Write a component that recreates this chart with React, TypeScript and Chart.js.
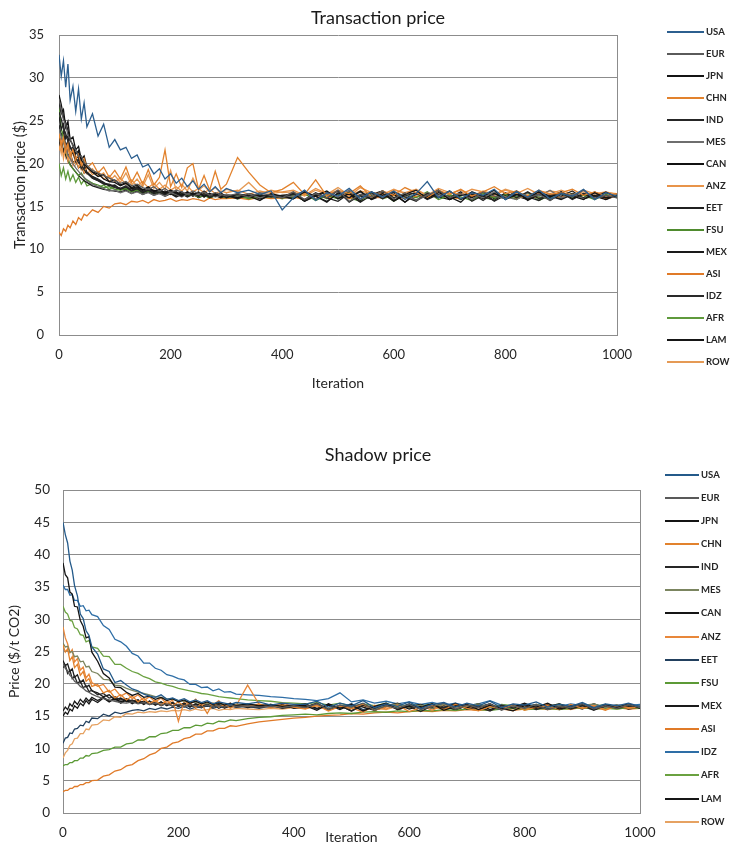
import React, { useEffect, useRef } from 'react';
import { Chart, registerables } from 'chart.js';

Chart.register(...registerables);

// ---------------- DATA ----------------
const ITERATIONS = [
  0, 4, 8, 12, 16, 20, 25, 30, 35, 40, 45, 50, 60, 70, 80, 90, 100,
  110, 120, 130, 140, 150, 160, 170, 180, 190, 200, 210, 220, 230, 240, 250, 260, 270, 280, 290, 300,
  320, 340, 360, 380, 400,
  420, 440, 460, 480, 500, 520, 540, 560, 580, 600, 620, 640, 660, 680, 700, 720, 740, 760, 780, 800,
  820, 840, 860, 880, 900, 920, 940, 960, 980, 1000,
];

const REGIONS = ['USA', 'EUR', 'JPN', 'CHN', 'IND', 'MES', 'CAN', 'ANZ', 'EET', 'FSU', 'MEX', 'ASI', 'IDZ', 'AFR', 'LAM', 'ROW'];

const X_TICK_STEP = 200;
const X_MAX = 1000;
const Y_TICK_STEP = 5;
const TP_Y_MAX = 35;
const SP_Y_MAX = 50;

const TP_TITLE = 'Transaction price';
const TP_Y_TITLE = 'Transaction price ($)';
const SP_TITLE = 'Shadow price';
const SP_Y_TITLE = 'Price ($/t CO2)';
const X_TITLE = 'Iteration';

// Transaction price ($)
const TP_USA = [32.7, 30.2, 32.0, 28.9, 31.6, 27.4, 29.0, 26.1, 28.7, 25.2, 27.1, 24.3, 25.8, 23.2, 24.6, 21.9, 22.8,
  21.6, 21.9, 20.6, 21.0, 19.6, 19.9, 18.8, 19.4, 18.2, 18.8, 17.7, 18.3, 17.3, 18.0, 17.0, 17.6, 16.7, 17.3, 16.6, 17.1,
  16.6, 16.9, 16.4, 16.8, 14.6,
  16.0, 16.9, 15.7, 16.6, 16.2, 17.1, 15.9, 16.7, 16.1, 16.8, 15.8, 16.5, 17.9, 16.0, 16.8, 15.9, 16.6, 16.3, 17.0, 15.8,
  16.7, 16.1, 16.9, 15.9, 16.5, 16.2, 17.0, 15.8, 16.6, 16.2];
const TP_EUR = [27.5, 26.2, 25.1, 24.6, 23.3, 22.9, 22.0, 21.6, 20.8, 20.9, 20.1, 19.8, 19.2, 18.9, 18.6, 18.3, 18.0,
  17.7, 17.9, 17.4, 17.6, 17.2, 17.0, 17.3, 16.8, 17.1, 16.6, 16.9, 16.7, 16.4, 16.8, 16.5, 16.7, 16.3, 16.6, 16.4, 16.2,
  16.5, 16.1, 16.6, 16.3, 16.0,
  16.7, 15.8, 16.5, 16.0, 16.9, 15.6, 16.4, 16.1, 16.8, 15.9, 16.6, 15.7, 16.3, 16.9, 16.0, 16.5, 15.8, 16.7, 16.2, 15.9,
  16.8, 16.0, 16.4, 15.7, 16.6, 16.1, 16.9, 15.9, 16.3, 16.0];
const TP_JPN = [28.0, 26.9, 25.4, 24.8, 23.9, 22.7, 22.2, 21.1, 21.5, 20.4, 20.0, 19.6, 19.0, 18.5, 18.7, 17.9, 17.8,
  17.4, 17.7, 17.1, 17.3, 16.9, 17.2, 16.7, 17.0, 16.5, 16.9, 16.6, 16.3, 16.7, 16.4, 16.6, 16.2, 16.5, 16.3, 16.6, 16.1,
  16.4, 16.2, 15.7, 16.5, 16.2,
  15.9, 16.7, 16.2, 15.5, 16.6, 16.0, 16.8, 15.8, 16.5, 15.6, 16.4, 16.9, 15.9, 16.6, 16.1, 15.5, 16.7, 16.2, 16.9, 15.8,
  16.4, 16.0, 16.7, 15.7, 16.5, 16.2, 15.8, 16.6, 16.0, 16.3];
const TP_CHN = [23.5, 22.1, 23.0, 21.4, 22.3, 20.9, 21.6, 20.5, 21.2, 19.8, 20.6, 19.5, 20.1, 18.9, 19.6, 18.4, 19.2,
  18.2, 19.6, 17.8, 19.0, 17.6, 19.3, 17.5, 18.4, 21.6, 17.3, 18.8, 17.2, 19.5, 20.0, 17.0, 18.6, 16.9, 19.1, 17.0, 17.6,
  20.7, 19.0, 17.5, 16.6, 17.0,
  17.8, 16.4, 18.1, 16.2, 16.9, 16.5, 17.4, 16.1, 16.8, 16.3, 17.2, 16.6, 16.0, 16.9, 16.4, 17.0, 16.2, 16.7, 17.3, 16.5,
  16.8, 16.1, 16.9, 16.4, 16.6, 17.0, 16.3, 16.7, 16.2, 16.5];
const TP_IND = [26.0, 25.2, 24.1, 23.5, 22.6, 22.0, 21.2, 20.7, 20.1, 19.8, 19.3, 18.9, 18.4, 18.1, 17.7, 17.6, 17.3,
  17.1, 17.4, 16.9, 17.2, 16.7, 17.0, 16.6, 16.9, 16.4, 16.8, 16.5, 16.2, 16.6, 16.3, 16.7, 16.1, 16.5, 16.2, 16.4, 16.0,
  16.5, 16.2, 16.4, 16.1, 16.3,
  16.5, 15.7, 16.4, 16.0, 16.8, 15.5, 16.3, 16.6, 15.9, 16.7, 16.1, 15.6, 16.5, 16.0, 16.8, 15.8, 16.4, 16.2, 15.7, 16.6,
  16.0, 16.7, 15.9, 16.3, 16.6, 15.8, 16.5, 16.1, 16.7, 16.0];
const TP_MES = [24.0, 23.1, 22.4, 21.8, 21.0, 20.6, 20.0, 19.5, 19.1, 18.7, 18.4, 18.0, 17.6, 17.3, 17.1, 16.8, 16.9,
  16.6, 16.8, 16.5, 16.7, 16.4, 16.6, 16.3, 16.5, 16.2, 16.6, 16.4, 16.1, 16.5, 16.3, 16.4, 16.2, 16.5, 16.1, 16.3, 16.4,
  16.2, 16.5, 16.0, 16.3, 16.1,
  16.2, 16.8, 15.9, 16.5, 16.1, 16.9, 15.8, 16.4, 16.0, 16.7, 16.2, 15.7, 16.6, 16.3, 16.8, 15.9, 16.5, 16.0, 16.7, 16.1,
  15.8, 16.6, 16.2, 16.9, 16.0, 16.4, 15.9, 16.6, 16.2, 16.4];
const TP_CAN = [27.2, 25.8, 26.3, 24.2, 24.9, 22.8, 23.1, 21.6, 22.0, 20.5, 20.9, 19.6, 19.0, 18.8, 18.2, 17.9, 18.1,
  17.5, 17.8, 17.2, 17.5, 16.9, 17.3, 16.8, 17.0, 16.6, 16.9, 16.4, 16.7, 16.3, 16.6, 16.2, 16.8, 16.3, 16.5, 16.1, 16.4,
  16.0, 16.5, 16.2, 16.4, 16.1,
  16.6, 15.6, 16.3, 16.8, 15.9, 16.5, 15.7, 16.7, 16.0, 16.4, 15.5, 16.6, 16.1, 16.9, 15.8, 16.3, 16.6, 15.9, 16.5, 16.0,
  16.8, 15.7, 16.4, 16.1, 16.7, 15.9, 16.5, 16.2, 15.8, 16.4];
const TP_ANZ = [21.5, 22.8, 20.6, 22.1, 20.3, 21.4, 19.8, 20.7, 19.5, 20.2, 18.9, 19.6, 18.7, 19.1, 18.2, 18.6, 17.9,
  18.3, 17.6, 18.1, 17.4, 17.9, 17.2, 17.7, 17.0, 17.5, 16.9, 17.3, 16.8, 17.4, 16.7, 17.1, 16.6, 17.0, 16.5, 16.8, 16.6,
  16.9, 16.4, 16.8, 16.5, 16.7,
  16.9, 16.3, 17.1, 16.5, 16.8, 16.2, 17.2, 16.6, 16.4, 17.0, 16.5, 16.9, 16.3, 17.1, 16.6, 16.4, 17.0, 16.7, 16.3, 16.9,
  16.5, 17.1, 16.4, 16.8, 16.6, 16.3, 16.9, 16.5, 16.7, 16.4];
const TP_EET = [25.5, 24.0, 24.6, 22.9, 23.2, 21.7, 21.9, 20.6, 20.8, 19.7, 19.9, 19.0, 18.5, 18.2, 17.8, 17.4, 17.5,
  17.0, 17.3, 16.8, 17.1, 16.6, 16.9, 16.5, 16.7, 16.3, 16.6, 16.2, 16.5, 16.1, 16.4, 16.2, 16.5, 16.0, 16.3, 16.1, 16.3,
  15.9, 16.4, 16.1, 16.2, 16.0,
  16.4, 15.8, 16.6, 16.0, 15.6, 16.5, 16.2, 15.9, 16.7, 15.7, 16.3, 16.6, 15.8, 16.4, 16.0, 16.7, 15.6, 16.3, 16.5, 15.9,
  16.6, 16.1, 15.7, 16.4, 16.2, 16.8, 15.9, 16.3, 16.0, 16.5];
const TP_FSU = [26.5, 24.2, 22.8, 21.3, 20.6, 19.8, 19.4, 19.0, 18.6, 18.9, 18.3, 18.1, 17.7, 17.5, 17.2, 17.3, 17.0,
  16.9, 17.1, 16.7, 16.9, 16.6, 16.8, 16.5, 16.7, 16.4, 16.6, 16.3, 16.5, 16.2, 16.4, 16.1, 16.3, 16.0, 16.3, 16.2, 16.0,
  16.3, 15.9, 16.2, 16.1, 16.2,
  16.0, 16.5, 15.7, 16.3, 15.9, 16.6, 15.8, 16.2, 16.5, 15.6, 16.4, 16.0, 16.7, 15.8, 16.3, 16.1, 15.7, 16.5, 16.0, 16.4,
  15.8, 16.6, 16.1, 15.9, 16.5, 16.0, 16.3, 15.8, 16.4, 16.1];
const TP_MEX = [23.0, 22.2, 21.5, 21.0, 20.3, 19.9, 19.4, 19.0, 18.6, 18.3, 18.0, 17.8, 17.4, 17.2, 17.0, 16.9, 16.8,
  16.7, 16.9, 16.5, 16.8, 16.4, 16.7, 16.3, 16.6, 16.2, 16.5, 16.1, 16.4, 16.2, 16.5, 16.0, 16.3, 16.1, 16.4, 16.0, 16.3,
  16.1, 16.4, 15.9, 16.2, 16.1,
  16.5, 15.6, 16.2, 16.7, 15.9, 16.4, 15.5, 16.3, 16.8, 16.0, 16.4, 15.7, 16.6, 16.1, 15.8, 16.5, 16.0, 16.7, 15.6, 16.3,
  16.5, 15.9, 16.6, 16.2, 15.8, 16.4, 16.0, 16.7, 16.1, 16.3];
const TP_ASI = [12.0, 11.6, 12.4, 12.1, 12.8, 12.5, 13.3, 12.9, 13.7, 13.4, 14.1, 13.9, 14.6, 14.3, 15.0, 14.8, 15.3,
  15.4, 15.2, 15.6, 15.5, 15.7, 15.4, 15.8, 15.6, 15.7, 15.9, 15.6, 15.8, 15.7, 15.9, 15.8, 15.6, 16.0, 15.8, 15.9, 15.9,
  16.0, 15.8, 16.1, 15.9, 16.0,
  16.1, 15.8, 16.3, 16.0, 16.2, 15.9, 16.4, 16.1, 16.0, 16.3, 15.9, 16.2, 16.0, 16.4, 16.1, 15.9, 16.3, 16.0, 16.2, 16.1,
  15.9, 16.3, 16.0, 16.2, 16.1, 16.4, 16.0, 16.2, 15.9, 16.2];
const TP_IDZ = [24.5, 23.3, 23.8, 22.1, 22.6, 21.0, 21.3, 20.2, 20.5, 19.4, 19.6, 18.9, 18.3, 18.0, 17.6, 17.5, 17.2,
  17.0, 17.2, 16.8, 17.0, 16.6, 16.9, 16.5, 16.7, 16.4, 16.6, 16.3, 16.5, 16.2, 16.4, 16.1, 16.5, 16.2, 16.3, 16.0, 16.2,
  16.0, 16.3, 16.1, 16.4, 16.1,
  15.9, 16.6, 16.2, 15.6, 16.5, 16.0, 16.7, 15.8, 16.3, 16.6, 15.5, 16.4, 16.1, 16.8, 15.9, 16.3, 16.5, 15.7, 16.6, 16.0,
  16.4, 15.8, 16.7, 16.2, 15.9, 16.5, 16.0, 16.6, 15.8, 16.3];
const TP_AFR = [20.0, 18.6, 19.5, 18.2, 19.1, 18.0, 18.7, 17.8, 18.4, 17.6, 18.1, 17.4, 17.7, 17.2, 17.5, 17.0, 17.3,
  16.9, 17.1, 16.7, 16.9, 16.6, 16.8, 16.5, 16.7, 16.4, 16.6, 16.3, 16.5, 16.2, 16.4, 16.1, 16.3, 16.0, 16.2, 16.1, 16.2,
  15.9, 16.1, 16.0, 16.2, 15.9,
  16.3, 15.7, 16.5, 15.9, 16.4, 16.0, 15.6, 16.6, 15.9, 16.3, 16.1, 15.7, 16.5, 16.0, 16.4, 15.8, 16.6, 16.0, 15.8, 16.4,
  16.1, 16.6, 15.7, 16.3, 16.0, 16.5, 15.9, 16.2, 16.0, 16.3];
const TP_LAM = [22.0, 23.0, 21.4, 22.2, 20.8, 21.3, 20.1, 20.4, 19.5, 19.7, 18.9, 19.0, 18.3, 18.0, 17.7, 17.5, 17.3,
  17.1, 16.9, 17.2, 16.8, 17.0, 16.7, 16.9, 16.5, 16.8, 16.4, 16.7, 16.3, 16.6, 16.2, 16.5, 16.1, 16.4, 16.2, 16.3, 16.1,
  16.4, 16.0, 16.3, 16.2, 16.3,
  16.2, 16.8, 15.8, 16.5, 16.0, 16.7, 15.9, 16.4, 16.8, 15.7, 16.3, 16.6, 16.0, 16.9, 15.8, 16.4, 16.1, 16.7, 15.9, 16.5,
  16.2, 15.8, 16.6, 16.0, 16.7, 16.1, 16.4, 15.9, 16.6, 16.2];
const TP_ROW = [22.5, 21.2, 23.4, 20.8, 22.0, 20.3, 21.5, 19.9, 20.6, 19.3, 20.1, 18.8, 19.4, 18.5, 18.9, 17.9, 18.6,
  17.8, 18.9, 17.5, 18.2, 17.3, 18.7, 17.1, 17.8, 17.0, 19.2, 16.9, 17.6, 16.8, 18.3, 16.9, 17.4, 16.7, 17.2, 16.6, 17.0,
  16.7, 17.8, 16.5, 16.9, 16.6,
  16.7, 16.2, 16.9, 16.4, 17.2, 16.3, 16.8, 16.5, 16.1, 16.9, 16.6, 17.0, 16.3, 16.7, 16.5, 16.9, 16.2, 16.8, 16.4, 17.0,
  16.6, 16.3, 16.8, 16.5, 16.9, 16.4, 16.7, 16.3, 16.6, 16.5];

// Shadow price ($/t CO2)
const SP_USA = [45.0, 43.1, 41.8, 39.0, 37.6, 35.2, 33.6, 30.8, 30.1, 28.2, 27.5, 25.7, 24.6, 22.3, 21.9, 20.2, 20.5,
  19.8, 19.2, 18.9, 18.4, 18.1, 17.9, 18.3, 17.6, 17.8, 17.4, 17.7, 17.2, 17.5, 17.1, 17.4, 16.9, 17.2, 17.0, 16.8, 17.1,
  16.9, 17.2, 16.7, 17.0, 16.8,
  16.8, 17.3, 16.4, 17.0, 16.6, 17.4, 16.3, 16.9, 16.5, 17.2, 16.2, 16.8, 17.1, 16.4, 17.0, 16.6, 17.3, 16.3, 16.9, 16.7,
  17.2, 16.4, 16.8, 16.5, 17.1, 16.3, 16.9, 16.6, 17.0, 16.5];
const SP_EUR = [23.2, 22.4, 22.0, 21.3, 21.0, 20.4, 20.1, 19.6, 19.3, 18.9, 18.7, 18.4, 18.0, 17.7, 17.5, 17.3, 17.1,
  17.0, 17.2, 16.9, 17.1, 16.8, 17.0, 16.7, 16.9, 16.6, 16.8, 16.5, 16.8, 16.6, 16.4, 16.7, 16.5, 16.6, 16.4, 16.7, 16.5,
  16.6, 16.4, 16.5, 16.3, 16.6,
  16.3, 16.9, 16.0, 16.7, 16.4, 17.0, 15.9, 16.6, 16.2, 16.8, 16.0, 16.5, 17.0, 16.1, 16.7, 16.3, 16.9, 15.9, 16.6, 16.2,
  16.8, 16.0, 16.5, 16.3, 16.9, 16.1, 16.6, 16.2, 16.8, 16.3];
const SP_JPN = [38.7, 36.9, 36.4, 34.2, 33.9, 32.0, 31.9, 29.8, 28.9, 27.1, 27.3, 24.9, 23.5, 21.6, 20.9, 19.5, 19.4,
  18.7, 18.2, 18.5, 17.9, 18.1, 17.6, 17.9, 17.4, 17.7, 17.2, 17.5, 17.0, 17.3, 16.9, 17.2, 16.8, 17.1, 16.7, 17.0, 16.6,
  16.9, 16.6, 16.8, 16.5, 16.7,
  16.6, 15.9, 16.9, 16.2, 16.7, 15.8, 16.5, 17.0, 16.1, 16.6, 16.3, 16.9, 15.9, 16.5, 16.8, 16.0, 16.7, 16.2, 15.8, 16.6,
  16.4, 17.0, 16.1, 16.5, 16.8, 16.0, 16.6, 16.3, 16.9, 16.2];
const SP_CHN = [26.0, 24.9, 25.4, 23.6, 24.2, 22.5, 23.0, 21.3, 21.9, 20.4, 20.8, 19.6, 19.9, 18.6, 19.0, 17.8, 18.3,
  17.5, 18.1, 17.2, 17.8, 16.9, 17.5, 16.7, 17.4, 16.6, 17.2, 16.5, 17.1, 16.3, 16.9, 15.4, 17.0, 16.4, 16.8, 16.2, 16.7,
  16.5, 16.9, 16.3, 16.7, 16.4,
  16.1, 16.7, 15.8, 16.5, 16.2, 16.9, 15.9, 16.4, 16.7, 15.7, 16.3, 16.6, 16.0, 16.8, 16.2, 15.8, 16.5, 16.1, 16.7, 15.9,
  16.4, 16.6, 16.0, 16.8, 16.2, 16.5, 15.9, 16.6, 16.3, 16.4];
const SP_IND = [22.5, 22.9, 21.6, 22.1, 20.8, 21.2, 20.1, 20.4, 19.4, 19.7, 18.8, 19.0, 18.3, 18.5, 17.8, 18.0, 17.5,
  17.7, 17.3, 17.5, 17.0, 17.3, 16.8, 17.1, 16.7, 17.0, 16.5, 16.9, 16.4, 16.8, 16.3, 16.7, 16.5, 16.8, 16.3, 16.6, 16.4,
  16.6, 16.3, 16.7, 16.2, 16.5,
  16.4, 17.0, 16.0, 16.6, 15.8, 16.7, 16.2, 16.9, 16.0, 16.5, 15.7, 16.6, 16.3, 16.9, 16.1, 16.4, 15.8, 16.7, 16.2, 16.8,
  16.0, 16.5, 16.9, 16.1, 16.6, 15.9, 16.7, 16.2, 16.5, 16.3];
const SP_MES = [26.3, 25.7, 25.8, 24.9, 25.0, 24.2, 24.3, 23.4, 23.5, 22.6, 22.7, 21.9, 21.6, 20.7, 20.6, 19.8, 19.7,
  19.3, 19.0, 18.7, 18.5, 18.3, 18.0, 17.9, 17.7, 17.6, 17.4, 17.3, 17.2, 17.1, 17.0, 16.9, 17.0, 16.8, 16.9, 16.7, 16.8,
  16.7, 16.6, 16.7, 16.5, 16.6,
  16.5, 16.9, 16.2, 16.7, 16.4, 16.8, 16.1, 16.6, 16.9, 16.3, 16.7, 16.2, 16.8, 16.4, 16.6, 16.9, 16.3, 16.7, 16.5, 16.2,
  16.8, 16.4, 16.7, 16.3, 16.6, 16.9, 16.4, 16.7, 16.5, 16.6];
const SP_CAN = [15.0, 15.6, 15.3, 16.1, 15.8, 16.6, 16.2, 17.0, 16.6, 17.4, 16.9, 17.6, 17.1, 17.8, 17.2, 17.7, 17.0,
  17.5, 16.9, 17.4, 16.8, 17.3, 16.7, 17.2, 16.6, 17.1, 16.5, 17.0, 16.4, 16.9, 16.5, 16.8, 16.4, 16.9, 16.3, 16.7, 16.5,
  16.7, 16.4, 16.8, 16.3, 16.6,
  16.9, 16.2, 16.7, 16.0, 16.8, 16.4, 15.9, 16.6, 17.0, 16.2, 16.5, 16.8, 16.1, 16.7, 16.3, 16.9, 16.0, 16.6, 16.4, 17.0,
  16.2, 16.7, 16.0, 16.5, 16.8, 16.2, 16.6, 16.4, 16.9, 16.3];
const SP_ANZ = [28.8, 27.1, 26.2, 24.8, 25.3, 23.4, 23.9, 22.1, 22.6, 20.9, 21.5, 20.2, 19.6, 19.9, 18.7, 19.2, 18.1,
  18.6, 17.7, 18.3, 17.4, 18.0, 17.2, 17.8, 16.9, 17.5, 14.2, 17.3, 16.8, 17.6, 16.5, 17.1, 16.7, 17.4, 16.3, 17.0, 16.6,
  19.8, 16.8, 16.4, 17.0, 16.5,
  16.2, 16.8, 16.0, 16.6, 16.3, 15.6, 16.7, 16.1, 16.9, 16.3, 16.6, 15.9, 16.8, 16.2, 16.5, 16.0, 16.7, 16.3, 15.8, 16.6,
  16.2, 16.9, 16.1, 16.5, 16.3, 16.7, 16.0, 16.6, 16.2, 16.4];
const SP_EET = [10.8, 11.6, 11.7, 12.4, 12.3, 13.0, 13.1, 13.6, 13.5, 14.2, 14.0, 14.7, 14.6, 15.3, 15.0, 15.6, 15.4,
  15.6, 15.9, 16.0, 15.8, 16.2, 16.0, 16.3, 16.1, 16.4, 16.2, 16.5, 16.1, 16.4, 16.3, 16.6, 16.2, 16.5, 16.3, 16.6, 16.4,
  16.5, 16.2, 16.6, 16.3, 16.5,
  16.6, 16.1, 16.8, 16.3, 16.9, 16.0, 16.5, 16.7, 16.2, 16.9, 16.1, 16.6, 16.3, 17.0, 16.2, 16.7, 16.4, 16.0, 16.8, 16.3,
  16.6, 16.1, 16.9, 16.4, 16.7, 16.2, 16.8, 16.3, 16.6, 16.5];
const SP_FSU = [7.3, 7.5, 7.5, 7.8, 7.8, 8.1, 8.1, 8.5, 8.5, 8.9, 8.8, 9.2, 9.3, 9.7, 9.8, 10.2, 10.2,
  10.7, 10.8, 11.3, 11.3, 11.8, 11.8, 12.3, 12.4, 12.8, 12.8, 13.2, 13.2, 13.6, 13.5, 13.9, 13.8, 14.2, 14.1, 14.4, 14.3,
  14.6, 14.8, 14.9, 15.1, 15.2,
  15.3, 15.2, 15.4, 15.5, 15.4, 15.6, 15.7, 15.6, 15.8, 15.7, 15.9, 15.8, 16.0, 15.9, 16.1, 16.0, 15.9, 16.1, 16.2, 16.0,
  16.1, 16.2, 16.0, 16.2, 16.3, 16.1, 16.2, 16.1, 16.3, 16.2];
const SP_MEX = [23.6, 22.8, 23.1, 21.9, 22.3, 21.0, 21.4, 20.2, 20.6, 19.5, 19.8, 18.9, 18.6, 18.0, 18.3, 17.5, 17.8,
  17.2, 17.5, 17.0, 17.3, 16.8, 17.1, 16.6, 17.0, 16.5, 16.8, 16.4, 16.9, 16.3, 16.7, 16.5, 16.8, 16.2, 16.6, 16.4, 16.7,
  16.3, 16.6, 16.4, 16.8, 16.2,
  16.4, 16.9, 16.1, 16.6, 15.8, 16.7, 16.3, 16.9, 16.0, 16.5, 16.8, 16.2, 16.6, 15.9, 16.7, 16.4, 16.9, 16.1, 16.5, 16.3,
  16.8, 16.0, 16.6, 16.4, 16.9, 16.2, 16.5, 16.7, 16.1, 16.4];
const SP_ASI = [3.3, 3.5, 3.5, 3.8, 3.8, 4.1, 4.1, 4.4, 4.4, 4.7, 4.7, 5.0, 5.1, 5.7, 5.9, 6.5, 6.7,
  7.3, 7.5, 8.1, 8.4, 9.0, 9.3, 10.0, 10.2, 10.8, 11.0, 11.5, 11.7, 12.2, 12.2, 12.7, 12.7, 13.1, 13.1, 13.5, 13.4,
  13.8, 14.1, 14.3, 14.5, 14.7,
  14.8, 15.0, 15.1, 15.2, 15.4, 15.3, 15.5, 15.6, 15.5, 15.7, 15.8, 15.7, 15.9, 15.8, 16.0, 15.9, 16.0, 16.1, 15.9, 16.1,
  16.2, 16.0, 16.2, 16.1, 16.3, 16.1, 16.2, 16.3, 16.1, 16.2];
const SP_IDZ = [35.3, 34.6, 34.6, 33.7, 33.8, 32.9, 32.9, 32.0, 32.1, 31.3, 31.4, 30.7, 30.4, 29.0, 28.4, 26.9, 26.5,
  25.8, 24.7, 24.3, 23.2, 23.2, 22.4, 22.1, 21.4, 21.2, 20.8, 20.6, 19.9, 19.9, 19.4, 19.5, 18.9, 19.2, 18.7, 18.8, 18.4,
  18.3, 18.2, 18.0, 17.9, 17.7,
  17.6, 17.4, 17.7, 18.6, 17.2, 17.5, 17.0, 17.3, 16.9, 17.2, 16.8, 17.1, 16.7, 17.0, 16.6, 16.9, 17.4, 16.7, 16.5, 16.9,
  16.6, 16.8, 16.5, 16.9, 16.6, 16.8, 16.4, 16.7, 16.6, 16.8];
const SP_AFR = [32.0, 31.1, 30.8, 29.8, 29.7, 28.7, 28.5, 27.6, 27.5, 26.5, 26.7, 25.7, 25.5, 24.3, 24.2, 23.0, 23.0,
  22.4, 21.9, 21.6, 21.1, 20.8, 20.3, 20.1, 19.8, 19.6, 19.3, 19.1, 18.9, 18.7, 18.5, 18.4, 18.2, 18.0, 17.9, 17.8, 17.7,
  17.5, 17.4, 17.3, 17.1, 17.0,
  16.9, 17.1, 16.7, 17.0, 16.5, 16.9, 16.6, 17.0, 16.4, 16.8, 16.6, 16.9, 16.3, 16.7, 16.5, 16.9, 16.4, 16.8, 16.6, 16.3,
  16.8, 16.5, 16.9, 16.4, 16.7, 16.5, 16.8, 16.3, 16.6, 16.5];
const SP_LAM = [15.8, 16.4, 16.0, 16.9, 16.5, 17.3, 16.8, 17.6, 17.1, 17.8, 17.3, 17.9, 17.4, 17.9, 17.3, 17.8, 17.2,
  17.6, 17.1, 17.5, 16.9, 17.3, 16.8, 17.2, 16.7, 17.1, 16.6, 17.0, 16.5, 16.9, 16.6, 16.8, 16.5, 16.9, 16.4, 16.7, 16.5,
  16.8, 16.5, 16.7, 16.4, 16.6,
  16.3, 16.8, 16.0, 16.7, 16.2, 16.9, 15.9, 16.5, 16.8, 16.1, 16.6, 16.3, 17.0, 16.0, 16.6, 16.4, 16.9, 16.1, 16.5, 16.7,
  16.0, 16.8, 16.3, 16.6, 16.1, 16.9, 16.2, 16.5, 16.7, 16.3];
const SP_ROW = [8.5, 9.3, 9.7, 10.5, 10.7, 11.5, 11.6, 12.3, 12.3, 13.0, 12.9, 13.6, 13.7, 14.4, 14.3, 14.9, 14.8,
  15.4, 15.3, 15.6, 15.5, 15.7, 15.6, 15.8, 15.7, 15.9, 15.8, 16.0, 15.8, 16.1, 15.9, 16.0, 16.2, 15.9, 16.1, 16.0, 16.2,
  16.1, 16.0, 16.2, 16.1, 16.3,
  16.2, 16.5, 16.0, 16.4, 16.1, 16.6, 16.2, 16.0, 16.5, 16.3, 16.6, 16.1, 16.4, 16.2, 16.7, 16.0, 16.4, 16.3, 16.6, 16.1,
  16.5, 16.2, 16.4, 16.0, 16.6, 16.3, 16.5, 16.1, 16.4, 16.3];

const TP_SERIES = [TP_USA, TP_EUR, TP_JPN, TP_CHN, TP_IND, TP_MES, TP_CAN, TP_ANZ, TP_EET, TP_FSU, TP_MEX, TP_ASI, TP_IDZ, TP_AFR, TP_LAM, TP_ROW];
const SP_SERIES = [SP_USA, SP_EUR, SP_JPN, SP_CHN, SP_IND, SP_MES, SP_CAN, SP_ANZ, SP_EET, SP_FSU, SP_MEX, SP_ASI, SP_IDZ, SP_AFR, SP_LAM, SP_ROW];

// ---------------- STYLE ----------------
const TP_COLORS = ['#2c5f8f', '#5a5a5a', '#141414', '#e2822d', '#262626', '#6e6e6e', '#111111', '#e8944a',
  '#202020', '#4f8b2e', '#1a1a1a', '#e07a28', '#2a2a2a', '#5f9a3c', '#161616', '#e59a55'];
const SP_COLORS = ['#245a8a', '#595959', '#141414', '#e2822d', '#262626', '#7b8560', '#151515', '#e8873a',
  '#22405e', '#5c9a36', '#1a1a1a', '#e07a28', '#2e6ea6', '#6aa140', '#161616', '#e6a262'];

const FONT = 'Lato, "Open Sans", sans-serif';
const GRID = '#8c8c8c';
const TEXT = '#262626';

type Layout = {
  top: number; height: number;
  padL: number; padR: number;
  titleTop: number; titleBottom: number;
  yWidth: number; rightWidth: number;
  xHeight: number; xTickPad: number; xTitleTop: number; xTitleBottom: number;
  yTickPad: number; tickSize: number; yTitleSize: number;
  legendX: number; legendY0: number; legendDy: number; legendLine: number;
};

const TOP_LAYOUT: Layout = {
  top: 0, height: 400, padL: 12, padR: -10, titleTop: 7, titleBottom: 6.4,
  yWidth: 47, rightWidth: 127, xHeight: 65, xTickPad: 12, xTitleTop: 0, xTitleBottom: 8.6,
  yTickPad: 15, tickSize: 13, yTitleSize: 14.5,
  legendX: 667, legendY0: 32, legendDy: 22, legendLine: 37,
};
const BOTTOM_LAYOUT: Layout = {
  top: 420, height: 426, padL: 6, padR: -16, titleTop: 24.2, titleBottom: 24.2,
  yWidth: 57, rightWidth: 110, xHeight: 33, xTickPad: 12, xTitleTop: 0, xTitleBottom: 0,
  yTickPad: 13, tickSize: 13.5, yTitleSize: 14,
  legendX: 665, legendY0: 474.5, legendDy: 23.15, legendLine: 34,
};

function buildConfig(series: number[][], colors: string[], title: string, yTitle: string, yMax: number, L: Layout): any {
  return {
    type: 'line',
    data: {
      datasets: REGIONS.map((name, i) => ({
        label: name,
        data: ITERATIONS.map((x, j) => ({ x, y: series[i][j] })),
        borderColor: colors[i],
        backgroundColor: colors[i],
        borderWidth: 1.3,
        pointRadius: 0,
        tension: 0,
        fill: false,
      })),
    },
    options: {
      responsive: false,
      animation: false,
      events: [],
      layout: { padding: { left: L.padL, right: L.padR, top: 0, bottom: 0 } },
      plugins: {
        legend: { display: false },
        tooltip: { enabled: false },
        title: {
          display: true,
          text: title,
          color: '#1a1a1a',
          font: { family: FONT, size: 18, weight: 'normal' },
          padding: { top: L.titleTop, bottom: L.titleBottom },
        },
      },
      scales: {
        x: {
          type: 'linear',
          min: 0,
          max: X_MAX,
          ticks: {
            stepSize: X_TICK_STEP, padding: L.xTickPad, color: TEXT, maxRotation: 0,
            font: { family: FONT, size: L.tickSize },
            callback: (v: any) => String(v),
          },
          grid: { display: false, drawTicks: false },
          border: { display: true, color: GRID, width: 1 },
          title: {
            display: true, text: X_TITLE, color: TEXT,
            font: { family: FONT, size: 14 },
            padding: { top: L.xTitleTop, bottom: L.xTitleBottom },
          },
          afterFit: (s: any) => { s.height = L.xHeight; },
        },
        y: {
          type: 'linear',
          min: 0,
          max: yMax,
          ticks: { stepSize: Y_TICK_STEP, padding: L.yTickPad, color: TEXT, font: { family: FONT, size: L.tickSize } },
          grid: { color: GRID, lineWidth: 1, drawTicks: false },
          border: { display: true, color: GRID, width: 1 },
          title: {
            display: true, text: yTitle, color: TEXT,
            font: { family: FONT, size: L.yTitleSize },
            padding: { top: 0, bottom: 0 },
          },
          afterFit: (s: any) => { s.width = L.yWidth; },
        },
        yFrame: {
          type: 'linear',
          position: 'right',
          display: true,
          min: 0,
          max: yMax,
          ticks: { display: false },
          grid: { display: false, drawTicks: false },
          border: { display: true, color: GRID, width: 1 },
          afterFit: (s: any) => { s.width = L.rightWidth; },
        },
      },
    },
  };
}

function Legend({ colors, L }: { colors: string[]; L: Layout }) {
  return (
    <>
      {REGIONS.map((name, i) => (
        <div
          key={name}
          style={{
            position: 'absolute',
            left: L.legendX,
            top: Math.round(L.legendY0 + i * L.legendDy) - 7,
            height: 14,
            display: 'flex',
            alignItems: 'center',
            whiteSpace: 'nowrap',
          }}
        >
          <span style={{ display: 'inline-block', width: L.legendLine, height: 0, borderTop: `2px solid ${colors[i]}` }} />
          <span style={{ marginLeft: 2, fontFamily: FONT, fontWeight: 700, fontSize: 9.5, color: TEXT, lineHeight: '14px' }}>{name}</span>
        </div>
      ))}
    </>
  );
}

function Panel({ series, colors, title, yTitle, yMax, L }: { series: number[][]; colors: string[]; title: string; yTitle: string; yMax: number; L: Layout }) {
  const ref = useRef<HTMLCanvasElement | null>(null);
  useEffect(() => {
    if (!ref.current) return;
    const chart = new Chart(ref.current, buildConfig(series, colors, title, yTitle, yMax, L));
    return () => chart.destroy();
  }, []);
  return (
    <>
      <canvas
        ref={ref}
        width={734}
        height={L.height}
        style={{ position: 'absolute', left: 0, top: L.top, width: 734, height: L.height }}
      />
      <Legend colors={colors} L={L} />
    </>
  );
}

export default function App() {
  return (
    <div style={{ position: 'absolute', left: 0, top: 0, width: 734, height: 846, background: '#ffffff', overflow: 'hidden' }}>
      <Panel series={TP_SERIES} colors={TP_COLORS} title={TP_TITLE} yTitle={TP_Y_TITLE} yMax={TP_Y_MAX} L={TOP_LAYOUT} />
      <Panel series={SP_SERIES} colors={SP_COLORS} title={SP_TITLE} yTitle={SP_Y_TITLE} yMax={SP_Y_MAX} L={BOTTOM_LAYOUT} />
    </div>
  );
}
